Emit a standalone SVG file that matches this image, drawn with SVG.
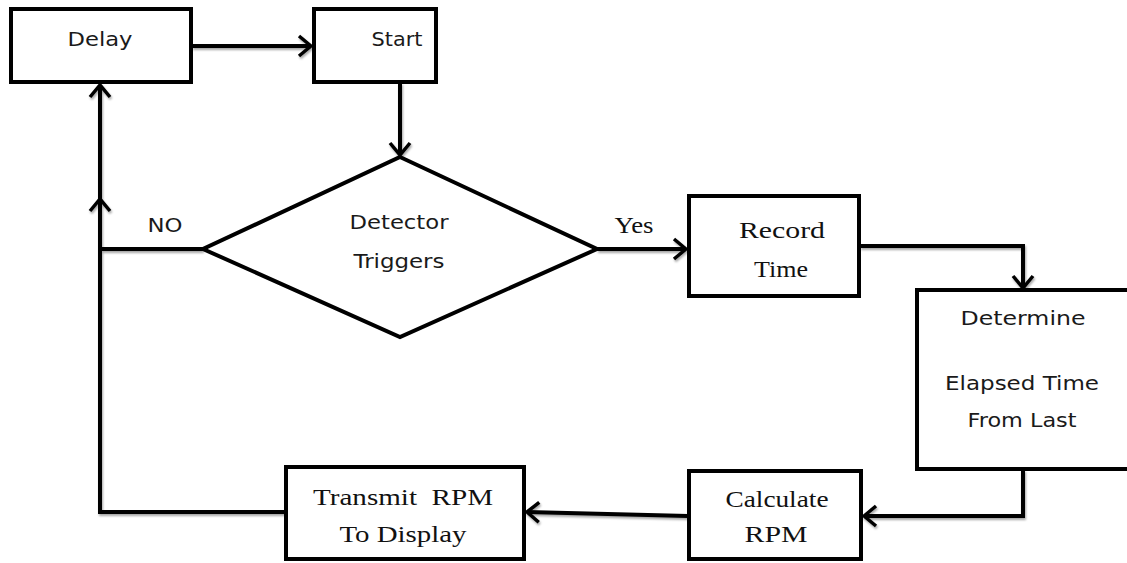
<svg xmlns="http://www.w3.org/2000/svg" width="1127" height="563" viewBox="0 0 1127 563">
  <defs>
    <marker id="arrow" viewBox="0 0 16 24" refX="14" refY="12" markerWidth="16" markerHeight="24" markerUnits="userSpaceOnUse" orient="auto">
      <path d="M2,2 L14,12 L2,22" fill="none" stroke="#000" stroke-width="3.5" stroke-linejoin="miter"/>
    </marker>
    <filter id="shade" x="-10%" y="-10%" width="120%" height="140%">
      <feDropShadow dx="1" dy="2" stdDeviation="1" flood-color="#000" flood-opacity="0.35"/>
    </filter>
    <style>
      .box { fill: #fff; stroke: #000; stroke-width: 4; }
      .link { fill: none; stroke: #000; stroke-width: 4; }
      .sans { font-family: "DejaVu Sans", "Open Sans", sans-serif; font-size: 20px; fill: #1a1a1a; text-anchor: middle; }
      .serif { font-family: "Liberation Serif", "Times New Roman", serif; font-size: 24px; fill: #111; text-anchor: middle; }
    </style>
  </defs>

  <rect width="1127" height="563" fill="#fff"/>

  <!-- connectors -->
  <g id="connectors" filter="url(#shade)">
    <path class="link" d="M192,46 H311" marker-end="url(#arrow)"/>
    <path class="link" d="M400,83 V155" marker-end="url(#arrow)"/>
    <path class="link" d="M597,249 H686" marker-end="url(#arrow)"/>
    <path class="link" d="M860,246 H1023 V288" marker-end="url(#arrow)"/>
    <path class="link" d="M1023,470 V516 H864" marker-end="url(#arrow)"/>
    <path class="link" d="M688,516 L527,512" marker-end="url(#arrow)"/>
    <path class="link" d="M285,512 H100 V249"/>
    <path class="link" d="M203,249 H100 V199" marker-end="url(#arrow)"/>
    <path class="link" d="M100,201 V85" marker-end="url(#arrow)"/>
  </g>

  <!-- edge labels -->
  <g id="labels">
    <text class="sans" x="165" y="232" textLength="35" lengthAdjust="spacingAndGlyphs">NO</text>
    <text class="serif" x="634" y="233" font-size="22" textLength="39" lengthAdjust="spacingAndGlyphs">Yes</text>
  </g>

  <g id="node-delay">
    <rect class="box" x="11" y="9" width="180" height="73"/>
    <text class="sans" x="100" y="46" textLength="65" lengthAdjust="spacingAndGlyphs">Delay</text>
  </g>

  <g id="node-start">
    <rect class="box" x="314" y="9" width="122" height="73"/>
    <text class="sans" x="397" y="46" textLength="51" lengthAdjust="spacingAndGlyphs">Start</text>
  </g>

  <g id="node-detector">
    <polygon class="box" points="400,157 597,249 400,337 203,249" stroke-linejoin="miter"/>
    <text class="sans" x="399" y="229" textLength="99" lengthAdjust="spacingAndGlyphs">Detector</text>
    <text class="sans" x="399" y="268" textLength="91" lengthAdjust="spacingAndGlyphs">Triggers</text>
  </g>

  <g id="node-record">
    <rect class="box" x="689" y="196" width="170" height="100"/>
    <text class="serif" x="782" y="238" textLength="86" lengthAdjust="spacingAndGlyphs">Record</text>
    <text class="serif" x="781" y="277" textLength="54" lengthAdjust="spacingAndGlyphs">Time</text>
  </g>

  <g id="node-determine">
    <rect class="box" x="917" y="290" width="215" height="179"/>
    <text class="sans" x="1023" y="325" textLength="125" lengthAdjust="spacingAndGlyphs">Determine</text>
    <text class="sans" x="1022" y="390" textLength="154" lengthAdjust="spacingAndGlyphs">Elapsed Time</text>
    <text class="sans" x="1022" y="427" textLength="109" lengthAdjust="spacingAndGlyphs">From Last</text>
  </g>

  <g id="node-calculate">
    <rect class="box" x="689" y="471" width="172" height="88"/>
    <text class="serif" x="777" y="507" textLength="103" lengthAdjust="spacingAndGlyphs">Calculate</text>
    <text class="serif" x="776" y="542" textLength="63" lengthAdjust="spacingAndGlyphs">RPM</text>
  </g>

  <g id="node-transmit">
    <rect class="box" x="286" y="467" width="238" height="92"/>
    <text class="serif" x="403" y="505" textLength="180" lengthAdjust="spacingAndGlyphs" xml:space="preserve">Transmit  RPM</text>
    <text class="serif" x="403" y="542" textLength="127" lengthAdjust="spacingAndGlyphs">To Display</text>
  </g>
</svg>
